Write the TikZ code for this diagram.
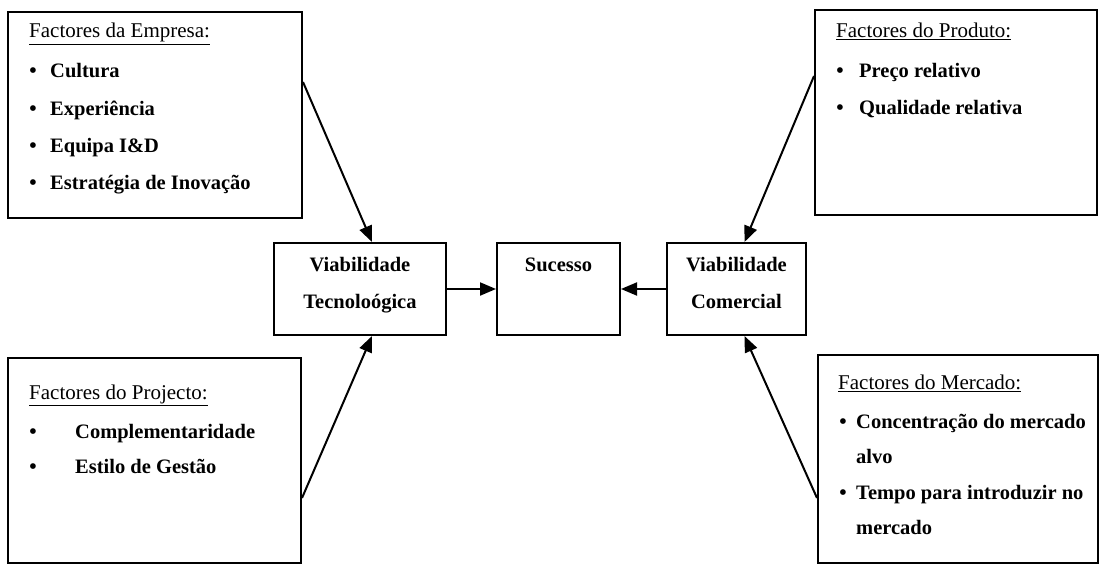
\documentclass[tikz,border=0pt]{standalone}
\usepackage{fontspec}
\setmainfont{Liberation Serif}
\usetikzlibrary{arrows.meta}

\begin{document}
\begin{tikzpicture}[x=1pt,y=-1pt,
  box/.style={draw, line width=2pt, inner sep=0pt},
  flow/.style={line width=2pt, -{Triangle[length=16pt,width=13pt]}},
  head/.style={anchor=base west, inner sep=0pt, font=\fontsize{21}{24}\selectfont},
  item/.style={anchor=base west, inner sep=0pt, font=\fontsize{20.5}{24}\selectfont\bfseries},
  dot/.style={anchor=base, inner sep=0pt, font=\fontsize{21}{24}\selectfont\bfseries},
  mid/.style={anchor=base, inner sep=0pt, font=\fontsize{20.5}{24}\selectfont\bfseries}]

\useasboundingbox (0,0) rectangle (1107,567);

% outer factor boxes
\node[box, minimum width=294pt, minimum height=206pt] (tl) at (155,115) {};
\node[box, minimum width=282pt, minimum height=205pt] (tr) at (956,112.5) {};
\node[box, minimum width=293pt, minimum height=205pt] (bl) at (154.5,460.5) {};
\node[box, minimum width=280pt, minimum height=208pt] (br) at (958,459) {};

% central chain
\node[box, minimum width=172pt, minimum height=92pt] (tech) at (360,289) {};
\node[box, minimum width=123pt, minimum height=92pt] (suc) at (558.5,288.5) {};
\node[box, minimum width=139pt, minimum height=92pt] (com) at (736.5,289) {};

% company factors
\node[head] (tlh) at (29,38) {\underline{Factores da Empresa:}};
\node[dot] (tlb1) at (33,78) {•};
\node[item] (tli1) at (50,78) {Cultura};
\node[dot] (tlb2) at (33,115) {•};
\node[item] (tli2) at (50,115) {Experiência};
\node[dot] (tlb3) at (33,152) {•};
\node[item] (tli3) at (50,152) {Equipa I\&D};
\node[dot] (tlb4) at (33,189) {•};
\node[item] (tli4) at (50,189) {Estratégia de Inovação};

% product factors
\node[head] (trh) at (836,38) {\underline{Factores do Produto:}};
\node[dot] (trb1) at (840,78) {•};
\node[item] (tri1) at (859,78) {Preço relativo};
\node[dot] (trb2) at (840,114) {•};
\node[item] (tri2) at (859,114) {Qualidade relativa};

% project factors
\node[head] (blh) at (29,399) {\underline{Factores do Projecto:}};
\node[dot] (blb1) at (33,438) {•};
\node[item] (bli1) at (75,438) {Complementaridade};
\node[dot] (blb2) at (33,473) {•};
\node[item] (bli2) at (75,473) {Estilo de Gestão};

% market factors
\node[head] (brh) at (838,389) {\underline{Factores do Mercado:}};
\node[dot] (brb1) at (843,428) {•};
\node[item] (bri1) at (856,428) {Concentração do mercado};
\node[item] (bri1b) at (856,463) {alvo};
\node[dot] (brb2) at (843,499) {•};
\node[item] (bri2) at (856,499) {Tempo para introduzir no};
\node[item] (bri2b) at (856,534) {mercado};

% central labels
\node[mid] (techa) at (360,271) {Viabilidade};
\node[mid] (techb) at (360,308) {Tecnoloógica};
\node[mid] (suca) at (558.5,271) {Sucesso};
\node[mid] (coma) at (736.5,271) {Viabilidade};
\node[mid] (comb) at (736.5,308) {Comercial};

% connectors
\draw[flow] ([yshift=-71pt]tl.north east) -- ([xshift=12pt]tech.north);
\draw[flow] ([yshift=66pt]bl.south east) -- ([xshift=12pt]tech.south);
\draw[flow] ([yshift=-67pt]tr.north west) -- ([xshift=8pt]com.north);
\draw[flow] ([yshift=66pt]br.south west) -- ([xshift=8pt]com.south);
\draw[flow] (tech.east) -- (tech.east -| suc.west);
\draw[flow] (com.west) -- (com.west -| suc.east);
\end{tikzpicture}
\end{document}
